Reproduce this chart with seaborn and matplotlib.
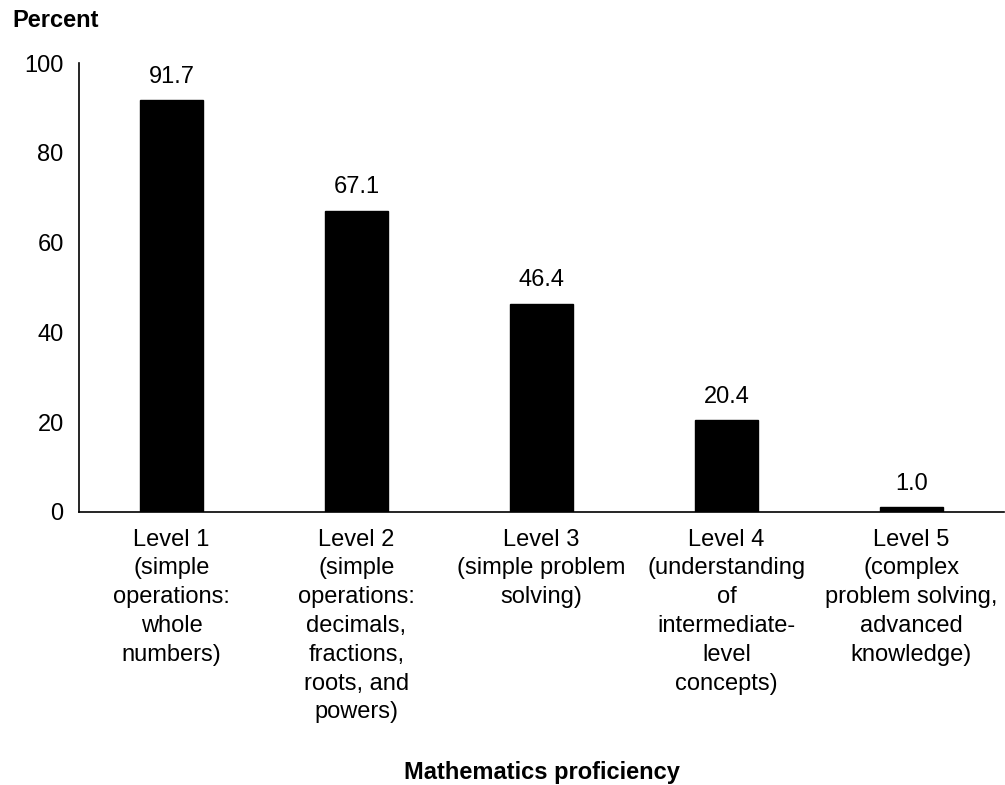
import matplotlib
matplotlib.use("Agg")
import matplotlib.pyplot as plt
import seaborn as sns
import pandas as pd

categories = [
    "Level 1\n(simple\noperations:\nwhole\nnumbers)",
    "Level 2\n(simple\noperations:\ndecimals,\nfractions,\nroots, and\npowers)",
    "Level 3\n(simple problem\nsolving)",
    "Level 4\n(understanding\nof\nintermediate-\nlevel\nconcepts)",
    "Level 5\n(complex\nproblem solving,\nadvanced\nknowledge)",
]
values = [91.7, 67.1, 46.4, 20.4, 1.0]
yticks = [0, 20, 40, 60, 80, 100]

sns.set_style("white")
plt.rcParams['font.family'] = ['Liberation Sans', 'DejaVu Sans']
plt.rcParams['text.color'] = 'black'
plt.rcParams['xtick.color'] = 'black'
plt.rcParams['ytick.color'] = 'black'

FS = 17

df = pd.DataFrame({"level": categories, "pct": values})

fig = plt.figure(figsize=(10.05, 7.85), dpi=100)
ax = fig.add_axes([0.0786, 0.3478, 0.9204, 0.5719])

sns.barplot(data=df, x="level", y="pct", color="black", width=0.34,
            saturation=1, ax=ax, edgecolor="black")

ax.set_ylim(0, 100)
ax.set_yticks(yticks)
ax.set_yticklabels([str(t) for t in yticks], fontsize=FS)
ax.set_xlim(-0.5, 4.5)
ax.tick_params(axis="y", length=7, width=1.2, direction="out", pad=4, color="black",
               labelcolor="black")
ax.tick_params(axis="x", length=0, pad=12, labelcolor="black")
for lbl in ax.get_xticklabels():
    lbl.set_fontsize(FS)
    lbl.set_linespacing(1.40)
    lbl.set_verticalalignment("top")
    lbl.set_horizontalalignment("center")

for s in ["top", "right"]:
    ax.spines[s].set_visible(False)
for s in ["left", "bottom"]:
    ax.spines[s].set_color("black")
    ax.spines[s].set_linewidth(1.2)

for c in ax.containers:
    ax.bar_label(c, labels=[f"{v:.1f}" for v in values], padding=9, fontsize=FS,
                 color="black")

ax.set_xlabel("")
ax.set_ylabel("")
fig.text(0.012, 0.974, "Percent", fontsize=FS, fontweight="bold", ha="left", va="center")
fig.text(0.5388, 0.0165, "Mathematics proficiency", fontsize=FS, fontweight="bold",
         ha="center", va="center")

fig.savefig("out.png", dpi=100)
